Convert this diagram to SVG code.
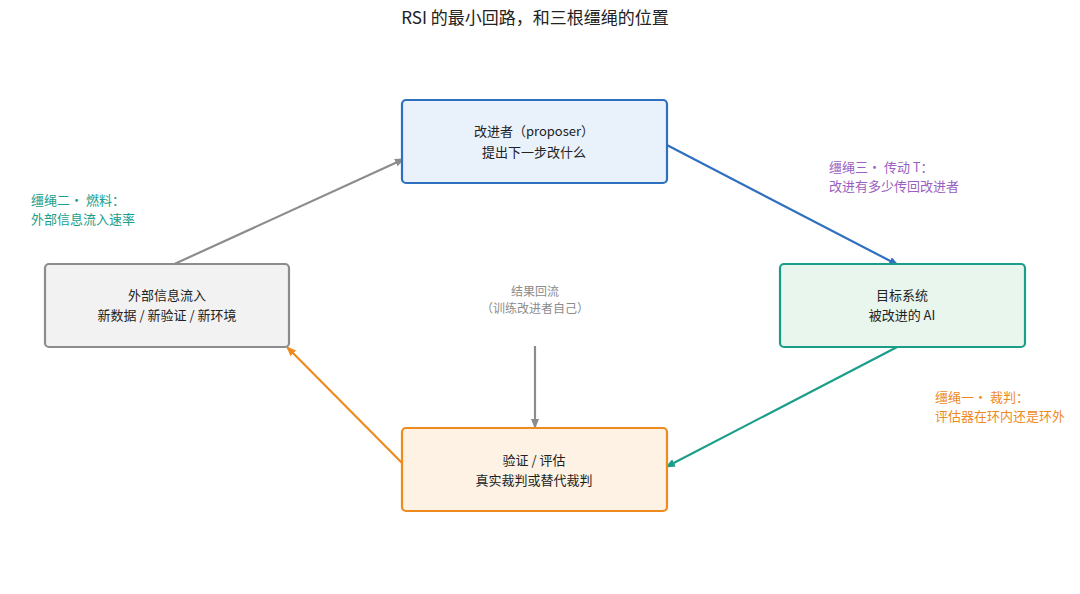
<svg xmlns="http://www.w3.org/2000/svg" width="1080" height="594" viewBox="0 0 1080 594">
<style>
text{font-family:"Noto Sans CJK SC","Noto Sans",sans-serif;font-size:13px;fill:#222;text-anchor:middle}
.l{text-anchor:start}
.g{fill:#8c8c8c;font-size:12px}
.box{stroke-width:2.2}
.c{fill:none;stroke-width:2.2}
</style>
<defs>
<marker id="ag" markerWidth="10" markerHeight="8" refX="9" refY="4" orient="auto" markerUnits="userSpaceOnUse"><path d="M0,0L10,4L0,8z" fill="#8c8c8c"/></marker>
<marker id="ab" markerWidth="10" markerHeight="8" refX="9" refY="4" orient="auto" markerUnits="userSpaceOnUse"><path d="M0,0L10,4L0,8z" fill="#2f6fbf"/></marker>
<marker id="at" markerWidth="10" markerHeight="8" refX="9" refY="4" orient="auto" markerUnits="userSpaceOnUse"><path d="M0,0L10,4L0,8z" fill="#1a9e8a"/></marker>
<marker id="ao" markerWidth="10" markerHeight="8" refX="9" refY="4" orient="auto" markerUnits="userSpaceOnUse"><path d="M0,0L10,4L0,8z" fill="#ef8a1f"/></marker>
</defs>
<rect width="1080" height="594" fill="#fff"/>
<text x="535" y="24" style="font-size:17px">RSI 的最小回路，和三根缰绳的位置</text>
<g id="connectors">
<path class="c" d="M170,266L404,159" stroke="#8c8c8c" marker-end="url(#ag)"/>
<path class="c" d="M663,143L898,265" stroke="#2f6fbf" marker-end="url(#ab)"/>
<path class="c" d="M901,345L666,467" stroke="#1a9e8a" marker-end="url(#at)"/>
<path class="c" d="M406,467L287,347" stroke="#ef8a1f" marker-end="url(#ao)"/>
<path class="c" d="M535,346L535,428" stroke="#8c8c8c" marker-end="url(#ag)"/>
</g>
<g id="proposer"><rect class="box" x="402" y="100" width="265" height="83" rx="4" fill="#e9f1fb" stroke="#2f6fbf"/>
<text x="534" y="136">改进者（proposer）</text><text x="534" y="157">提出下一步改什么</text></g>
<g id="target"><rect class="box" x="780" y="264" width="245" height="83" rx="4" fill="#e8f6ee" stroke="#1a9e8a"/>
<text x="902" y="300">目标系统</text><text x="902" y="320">被改进的 AI</text></g>
<g id="eval"><rect class="box" x="402" y="428" width="265" height="83" rx="4" fill="#fdf2e3" stroke="#ef8a1f"/>
<text x="534" y="465">验证 / 评估</text><text x="534" y="485">真实裁判或替代裁判</text></g>
<g id="external"><rect class="box" x="45" y="264" width="244" height="83" rx="4" fill="#f2f2f2" stroke="#8c8c8c"/>
<text x="167" y="300">外部信息流入</text><text x="167" y="320">新数据 / 新验证 / 新环境</text></g>
<g id="labels">
<text class="g" x="535" y="296">结果回流</text>
<text class="g" x="535" y="313">（训练改进者自己）</text>
<text class="l" x="31" y="205" style="fill:#1a9e8a">缰绳二· 燃料：</text>
<text class="l" x="31" y="224" style="fill:#1a9e8a">外部信息流入速率</text>
<text class="l" x="829" y="172" style="fill:#9a5fc0">缰绳三· 传动 T：</text>
<text class="l" x="829" y="191" style="fill:#9a5fc0">改进有多少传回改进者</text>
<text class="l" x="935" y="402" style="fill:#ef8a1f">缰绳一· 裁判：</text>
<text class="l" x="935" y="421" style="fill:#ef8a1f">评估器在环内还是环外</text>
</g>
</svg>
